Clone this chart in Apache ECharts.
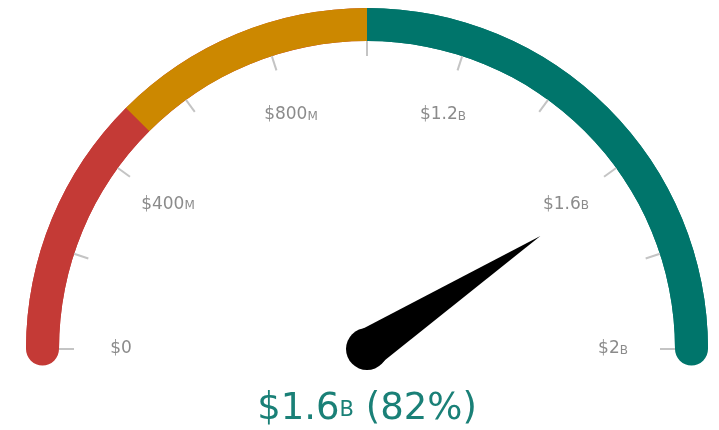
<!DOCTYPE html>
<html lang="en">

<head>
  <meta charset="UTF-8">
  <title>Gauge</title>
  <style>
    html,
    body {
      margin: 0;
      padding: 0;
      background: #fff;
    }

    #main {
      width: 719px;
      height: 430px;
    }
  </style>
</head>

<body>
  <div id="main"></div>
  <script src="https://cdn.jsdelivr.net/npm/echarts@6/dist/echarts.min.js"></script>
  <script>
    // values are in millions of dollars
    var gaugeMin = 0;
    var gaugeMax = 2000;
    var currentValue = 1632;

    // colour bands, upper bound as a fraction of the range
    var bandStops = [0.25, 0.5, 1];
    var bandColors = ['#c43a36', '#cc8800', '#00756b'];

    var labelValues = [0, 400, 800, 1200, 1600, 2000];
    var labelTexts = ['$0', '$400M', '$800M', '$1.2B', '$1.6B', '$2B'];

    var center = [367, 349];
    var radius = 341;
    var bandWidth = 33;
    var labelRadius = 246;
    var font = 'DejaVu Sans';

    // "$400M" -> "$400" + small capital "M"
    function smallCaps(text, big, small) {
      var m = text.match(/^(.*?)([MB]?)$/);
      var s = '{' + big + '|' + m[1] + '}';
      if (m[2]) s += '{' + small + '|' + m[2] + '}';
      return s;
    }

    var myChart = echarts.init(document.getElementById('main'));

    var bands = bandStops.map(function (s, i) {
      return [s, bandColors[i]];
    });

    var option = {
      animation: false,
      polar: {
        center: center,
        radius: radius
      },
      radiusAxis: {
        min: 0,
        max: radius,
        show: false
      },
      angleAxis: {
        type: 'value',
        min: gaugeMin,
        max: gaugeMax * 2, // half turn for the whole range
        startAngle: 180,
        clockwise: true,
        show: false,
        splitLine: { show: false }
      },
      series: [{
        // round ends of the band, covered by the flat bands above
        type: 'gauge',
        center: center,
        radius: radius,
        startAngle: 180,
        endAngle: 0,
        min: gaugeMin,
        max: gaugeMax,
        axisLine: {
          roundCap: true,
          lineStyle: {
            width: bandWidth,
            color: [[0.5, bandColors[0]], [1, bandColors[2]]]
          }
        },
        splitLine: { show: false },
        axisTick: { show: false },
        axisLabel: { show: false },
        pointer: { show: false },
        anchor: { show: false },
        title: { show: false },
        detail: { show: false },
        data: []
      }, {
        type: 'gauge',
        center: center,
        radius: radius,
        startAngle: 180,
        endAngle: 0,
        min: gaugeMin,
        max: gaugeMax,
        splitNumber: 10,
        axisLine: {
          lineStyle: {
            width: bandWidth,
            color: bands
          }
        },
        splitLine: {
          length: 15,
          distance: 0,
          lineStyle: {
            color: '#c4c4c4',
            width: 2
          }
        },
        axisTick: { show: false },
        axisLabel: { show: false },
        pointer: {
          icon: 'path://M0,100 L50,0 L100,100 Z',
          length: 207,
          width: 40,
          itemStyle: { color: '#000' }
        },
        anchor: {
          show: true,
          showAbove: true,
          size: 42,
          itemStyle: { color: '#000' }
        },
        title: { show: false },
        detail: {
          offsetCenter: [0, 60],
          formatter: function (v) {
            var pct = Math.round((v - gaugeMin) / (gaugeMax - gaugeMin) * 100);
            return '{v|$' + (v / 1000).toFixed(1) + '}{u|B}{v| (' + pct + '%)}';
          },
          rich: {
            v: {
              fontFamily: font,
              fontSize: 37,
              fontWeight: 'normal',
              color: '#1a8077'
            },
            u: {
              fontFamily: font,
              fontSize: 21,
              fontWeight: 'normal',
              color: '#1a8077',
              verticalAlign: 'bottom',
              padding: [0, 0, 3, 0]
            }
          }
        },
        data: [{ value: currentValue }]
      }, {
        // tick labels, centred on a ring inside the band
        type: 'scatter',
        coordinateSystem: 'polar',
        symbolSize: 0,
        silent: true,
        label: {
          show: true,
          position: 'inside',
          formatter: function (p) {
            return smallCaps(labelTexts[p.dataIndex], 'n', 'u');
          },
          rich: {
            n: {
              fontFamily: font,
              fontSize: 17,
              color: '#6e6e6e'
            },
            u: {
              fontFamily: font,
              fontSize: 12,
              color: '#6e6e6e',
              verticalAlign: 'bottom',
              padding: [0, 0, 1, 0]
            }
          }
        },
        data: labelValues.map(function (v) {
          return [labelRadius, v];
        })
      }]
    };
    myChart.setOption(option);
  </script>
</body>

</html>
